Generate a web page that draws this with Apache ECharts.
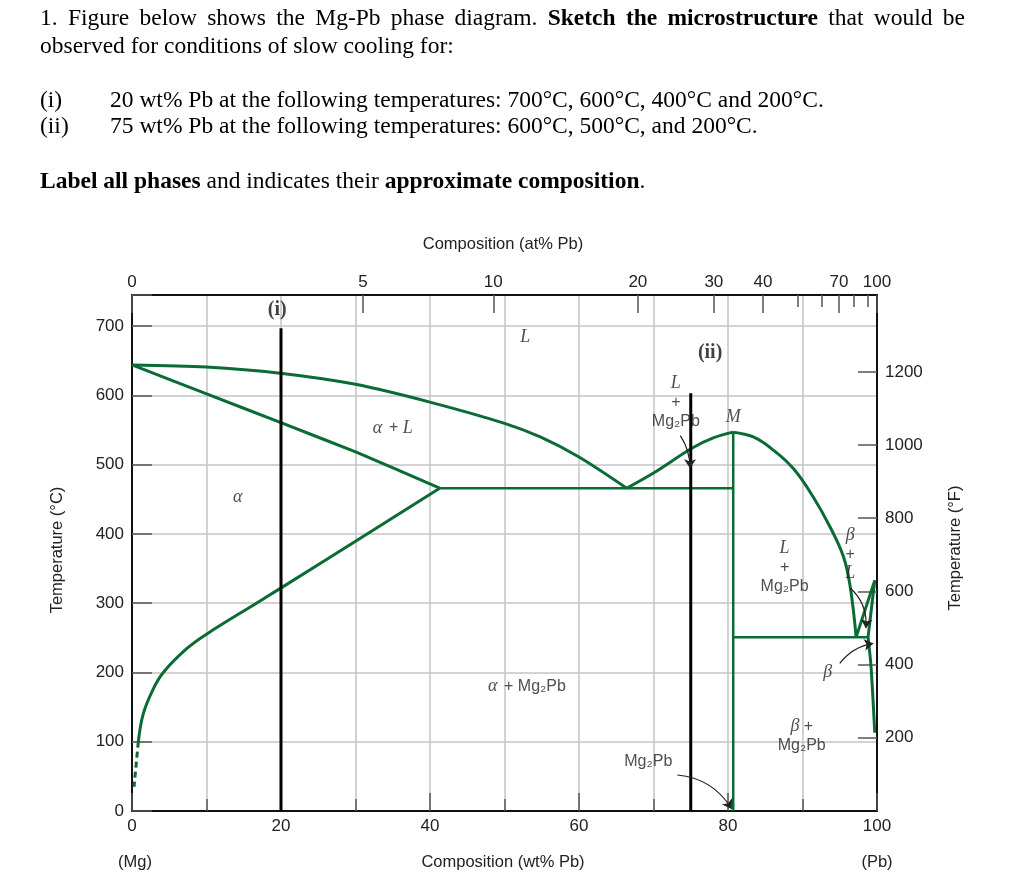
<!DOCTYPE html>
<html><head><meta charset="utf-8">
<script src="https://cdn.jsdelivr.net/npm/echarts@6/dist/echarts.min.js"></script>
<style>html,body{margin:0;padding:0;background:#fff}#c{width:1033px;height:886px}</style>
</head><body><div id="c"></div><script>
// ---- axis tick data ----
const wtMax = 100;
const tempCMax = 745;
const tempFMax = 1410;
const atTickLabels = ['0','5','10','20','30','40','70','100'];
const atTickPosWt = [0, 31.0, 48.5, 67.9, 78.1, 84.7, 94.9, 100];   // wt% positions of labelled at% ticks
const atMinorPosWt = [89.4, 92.6, 96.9, 98.8];                      // wt% positions of at% 50,60,80,90
const tempFLabels = [200, 400, 600, 800, 1000, 1200];

// ---- phase boundaries [wt% Pb, °C] ----
const liquidusMg = [[0,644],[10,641],[19.9,632],[30,616],[40.1,590],[49.9,560],[54.8,540],[60,511],[66.4,466]];
const solidusAlpha = [[0,644],[10.1,602],[19.9,561],[30.1,518],[41.3,466]];
const solvusAlpha = [[41.3,466],[32.3,405],[19.7,320],[16.7,300],[10.1,256],[7.3,234],[4.2,200],[2.8,175],[1.5,140],[0.85,100]];
const solvusAlphaDashed = [[0.85,100],[0.27,35]];
const eutecticLeft = [[41.3,466],[80.7,466]];
const liquidusMg2PbLeft = [[66.4,466],[70,488],[75.2,524],[78.1,539],[80.7,547]];
const liquidusMg2PbRight = [[80.7,547],[83.4,540],[86.1,521],[88.8,494],[91.4,454],[93.7,410],[95.5,367],[96.4,324],[97.2,251]];
const mg2PbLine = [[80.7,547],[80.7,0]];
const eutecticRight = [[80.7,251],[98.8,251]];
const liquidusPb = [[97.2,251],[99.7,333]];
const solidusBeta = [[99.7,333],[98.8,251]];
const solvusBeta = [[98.8,251],[99.2,208],[99.7,113]];
const alloyI = [[20,697],[20,0]];
const alloyII = [[75,603],[75,0]];

// ---- annotations ----
const regionLabels = [
  ['{b|(i)}', 19.5, 723],
  ['{b|(ii)}', 77.6, 661],
  ['{i|L}', 52.8, 684],
  ['{i|α}  {s|+}{i| L}', 35.0, 553],
  ['{i|α}', 14.2, 453],
  ['{i|L}\n{s|+}\n{s|Mg₂Pb}', 73.0, 590],
  ['{i|M}', 80.7, 569],
  ['{i|α}  {s|+ Mg₂Pb}', 53.0, 180],
  ['{i|L}\n{s|+}\n{s|Mg₂Pb}', 87.6, 352],
  ['{i|β}\n{s|+}\n{i|L}', 96.4, 370],
  ['{i|β}', 93.4, 200],
  ['{i|β}{s| +}\n{s|Mg₂Pb}', 89.9, 108],
  ['{s|Mg₂Pb}', 69.3, 71]
];
// [start, end, curveness]
const arrows = [
  [[73.6,542],[74.9,495],0.15],
  [[73.2,52],[80.5,3],0.25],
  [[96.4,322],[98.5,264],0.25],
  [[95.0,213],[99.5,242],0.2]
];

const GREEN = '#0a6b35';
const SANS = '"Liberation Sans", Arial, sans-serif';
const SERIF = '"Liberation Serif", "Times New Roman", serif';
const AXFS = 17;
const TFS = 23.5;

function boundary(data, extra) {
  return Object.assign({
    type: 'line', data: data, showSymbol: false, symbol: 'none', silent: true,
    xAxisIndex: 0, yAxisIndex: 0,
    lineStyle: { color: GREEN, width: 3 }, z: 5
  }, extra || {});
}
function arrowSeries(a) {
  return { type: 'lines', coordinateSystem: 'cartesian2d', xAxisIndex: 0, yAxisIndex: 0, silent: true, z: 7,
    symbol: ['none', 'arrow'], symbolSize: [7, 9],
    lineStyle: { color: '#222', width: 1.2, type: 'solid', curveness: a[2], opacity: 1 },
    data: [{ coords: [a[0], a[1]] }] };
}

// justified title line built from word widths
const measureCtx = document.createElement('canvas').getContext('2d');
function justifiedLine(parts, x0, x1, y) {
  const words = [];
  parts.forEach(p => p.t.split(' ').filter(w => w.length).forEach(w => words.push({ w: w, bold: p.bold })));
  let total = 0;
  words.forEach(o => { o.font = (o.bold ? 'bold ' : '') + TFS + 'px ' + SERIF; measureCtx.font = o.font; o.width = measureCtx.measureText(o.w).width; total += o.width; });
  const gap = (x1 - x0 - total) / (words.length - 1);
  let x = x0;
  return words.map(o => { const el = { type: 'text', x: x, y: y, style: { text: o.w, font: o.font, fill: '#000', verticalAlign: 'middle' } }; x += o.width + gap; return el; });
}
function plainText(t, x, y) {
  return { type: 'text', x: x, y: y, style: { text: t, font: TFS + 'px ' + SERIF, fill: '#000', verticalAlign: 'middle' } };
}
function smallText(t, x, y, rot) {
  return { type: 'text', x: x, y: y, rotation: rot || 0, style: { text: t, font: '16.5px ' + SANS, fill: '#222', align: 'center', verticalAlign: 'middle' } };
}

const chart = echarts.init(document.getElementById('c'), null, { renderer: 'canvas' });
const gridLineStyle = { color: '#c4c4c4', width: 1.5 };
const tickStyle = { color: '#555', width: 1.5 };
const gridRect = { left: 132, top: 295, width: 745, height: 516, containLabel: false };
const option = {
  animation: false,
  backgroundColor: '#fff',
  grid: [Object.assign({}, gridRect), Object.assign({}, gridRect)],
  xAxis: [
    { type: 'value', gridIndex: 0, position: 'bottom', min: 0, max: wtMax, interval: 20,
      axisLine: { show: true, onZero: false, lineStyle: { color: '#111', width: 2 } },
      axisTick: { show: true, inside: true, length: 18, lineStyle: tickStyle },
      minorTick: { show: true, splitNumber: 2, length: 12, lineStyle: tickStyle },
      splitLine: { show: true, lineStyle: gridLineStyle },
      minorSplitLine: { show: true, lineStyle: gridLineStyle },
      axisLabel: { color: '#222', fontSize: AXFS, fontFamily: SANS, margin: 7 } },
    { type: 'value', gridIndex: 0, position: 'top', min: 0, max: wtMax,
      axisLine: { show: true, onZero: false, lineStyle: { color: '#111', width: 2 } },
      axisTick: { show: true, inside: true, length: 18, customValues: atTickPosWt, lineStyle: tickStyle },
      splitLine: { show: false },
      axisLabel: { show: true, customValues: atTickPosWt, color: '#222', fontSize: AXFS, fontFamily: SANS, margin: 4,
        formatter: function (v) { const i = atTickPosWt.indexOf(v); return i >= 0 ? atTickLabels[i] : ''; } } },
    { type: 'value', gridIndex: 1, position: 'top', min: 0, max: wtMax,
      axisLine: { show: false, onZero: false },
      axisTick: { show: true, inside: true, length: 12, customValues: atMinorPosWt, lineStyle: tickStyle },
      splitLine: { show: false },
      axisLabel: { show: false } }
  ],
  yAxis: [
    { type: 'value', gridIndex: 0, position: 'left', min: 0, max: tempCMax, interval: 100,
      axisLine: { show: true, onZero: false, lineStyle: { color: '#111', width: 2 } },
      axisTick: { show: true, inside: true, length: 20, lineStyle: tickStyle },
      splitLine: { show: true, lineStyle: gridLineStyle },
      axisLabel: { color: '#222', fontSize: AXFS, fontFamily: SANS, margin: 8,
        formatter: function (v) { return v % 100 === 0 ? String(v) : ''; } } },
    { type: 'value', gridIndex: 0, position: 'right', min: 0, max: tempFMax,
      axisLine: { show: true, onZero: false, lineStyle: { color: '#111', width: 2 } },
      axisTick: { show: true, inside: true, length: 19, customValues: tempFLabels, lineStyle: tickStyle },
      splitLine: { show: false },
      axisLabel: { show: true, customValues: tempFLabels, color: '#222', fontSize: AXFS, fontFamily: SANS, margin: 8,
        formatter: function (v) { return String(v); } } },
    { type: 'value', gridIndex: 1, min: 0, max: tempCMax, show: false }
  ],
  series: [
    boundary(liquidusMg, { smooth: 0.3 }),
    boundary(solidusAlpha, { smooth: 0.15 }),
    boundary(solvusAlpha, { smooth: 0.4 }),
    boundary(solvusAlphaDashed, { lineStyle: { color: GREEN, width: 3, type: [6, 4] } }),
    boundary(eutecticLeft, { lineStyle: { color: GREEN, width: 2.5 } }),
    boundary(liquidusMg2PbLeft, { smooth: 0.3 }),
    boundary(liquidusMg2PbRight, { smooth: 0.4 }),
    boundary(mg2PbLine, { lineStyle: { color: GREEN, width: 2.5 } }),
    boundary(eutecticRight, { lineStyle: { color: GREEN, width: 2.5 } }),
    boundary(liquidusPb),
    boundary(solidusBeta),
    boundary(solvusBeta, { smooth: 0.3 }),
    boundary(alloyI, { lineStyle: { color: '#000', width: 3 }, z: 6 }),
    boundary(alloyII, { lineStyle: { color: '#000', width: 3 }, z: 6 }),
    { type: 'scatter', xAxisIndex: 0, yAxisIndex: 0, symbolSize: 0, silent: true, z: 8,
      data: regionLabels.map(r => [r[1], r[2]]),
      label: { show: true, position: 'inside', align: 'center', verticalAlign: 'middle',
        formatter: function (p) { return regionLabels[p.dataIndex][0]; },
        lineHeight: 19,
        rich: {
          i: { fontFamily: SERIF, fontStyle: 'italic', fontSize: 18, color: '#222', lineHeight: 19 },
          s: { fontFamily: SANS, fontSize: 16, color: '#222', lineHeight: 19 },
          b: { fontFamily: SERIF, fontWeight: 'bold', fontSize: 20, color: '#111', lineHeight: 22 }
        } } }
  ].concat(arrows.map(arrowSeries)),
  graphic: [].concat(
    justifiedLine([{ t: '1. Figure below shows the Mg-Pb phase diagram.', bold: false }, { t: 'Sketch the microstructure', bold: true }, { t: 'that would be', bold: false }], 40, 965, 19),
    [
      plainText('observed for conditions of slow cooling for:', 40, 47),
      plainText('(i)', 40, 101),
      plainText('20 wt% Pb at the following temperatures: 700°C, 600°C, 400°C and 200°C.', 110, 101),
      plainText('(ii)', 40, 127),
      plainText('75 wt% Pb at the following temperatures: 600°C, 500°C, and 200°C.', 110, 127),
      { type: 'text', x: 40, y: 182, style: { text: '{b|Label all phases}{n| and indicates their }{b|approximate composition}{n|.}', verticalAlign: 'middle',
        rich: { n: { fontFamily: SERIF, fontSize: TFS, fill: '#000' }, b: { fontFamily: SERIF, fontSize: TFS, fontWeight: 'bold', fill: '#000' } } } },
      smallText('Composition (at% Pb)', 503, 244),
      smallText('Composition (wt% Pb)', 503, 862),
      smallText('(Mg)', 135, 862),
      smallText('(Pb)', 877, 862),
      smallText('Temperature (°C)', 57, 550, Math.PI / 2),
      smallText('Temperature (°F)', 955, 548, Math.PI / 2)
    ])
};
chart.setOption(option);
</script></body></html>
